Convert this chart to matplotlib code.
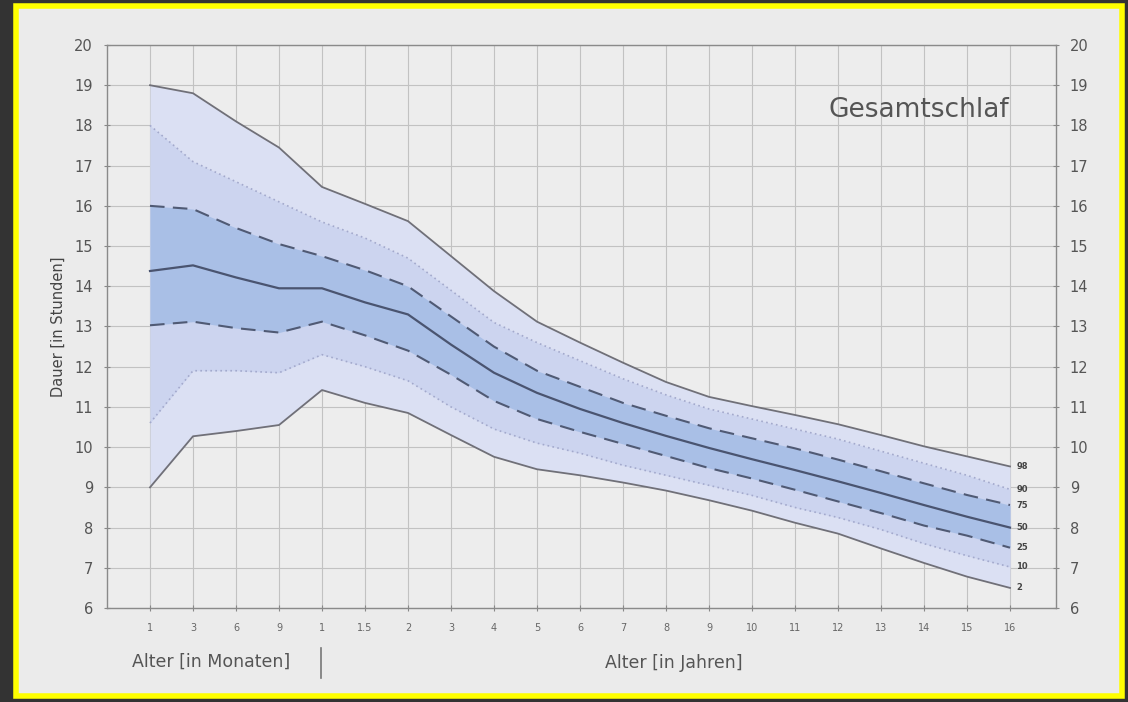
import matplotlib.pyplot as plt
from matplotlib.patches import Rectangle
from matplotlib.lines import Line2D
import numpy as np

# Alter: 1,3,6,9 Monate, dann Jahre
x_labels = ['1', '3', '6', '9', '1', '1.5', '2', '3', '4', '5', '6', '7',
            '8', '9', '10', '11', '12', '13', '14', '15', '16']

# Perzentile Gesamtschlaf (Stunden)
p98 = [19.0, 18.8, 18.1, 17.45, 16.47, 16.05, 15.62, 14.75, 13.88, 13.12, 12.6,
       12.1, 11.62, 11.25, 11.02, 10.8, 10.57, 10.3, 10.02, 9.77, 9.52]
p90 = [18.0, 17.1, 16.6, 16.1, 15.6, 15.2, 14.7, 13.9, 13.1, 12.6, 12.15,
       11.7, 11.3, 10.95, 10.7, 10.45, 10.2, 9.9, 9.6, 9.3, 8.95]
p75 = [16.0, 15.92, 15.45, 15.05, 14.75, 14.4, 14.0, 13.25, 12.5, 11.9, 11.5,
       11.1, 10.78, 10.47, 10.22, 9.97, 9.69, 9.4, 9.1, 8.81, 8.56]
p50 = [14.38, 14.52, 14.22, 13.95, 13.95, 13.6, 13.3, 12.55, 11.85, 11.35, 10.95,
       10.6, 10.28, 9.98, 9.7, 9.43, 9.15, 8.86, 8.56, 8.27, 8.0]
p25 = [13.03, 13.12, 12.96, 12.85, 13.12, 12.78, 12.4, 11.8, 11.15, 10.7, 10.38,
       10.08, 9.78, 9.48, 9.22, 8.94, 8.65, 8.36, 8.05, 7.8, 7.5]
p10 = [10.6, 11.9, 11.9, 11.85, 12.3, 12.0, 11.65, 11.0, 10.45, 10.1, 9.85,
       9.55, 9.3, 9.05, 8.8, 8.5, 8.25, 7.95, 7.6, 7.3, 7.02]
p2 = [9.0, 10.27, 10.4, 10.55, 11.42, 11.1, 10.85, 10.3, 9.76, 9.45, 9.3,
      9.12, 8.92, 8.68, 8.42, 8.12, 7.85, 7.48, 7.12, 6.78, 6.5]
perz_namen = ['98', '90', '75', '50', '25', '10', '2']

x = np.arange(len(x_labels))

fig = plt.figure(figsize=(11.28, 7.02), dpi=100)
fig.patch.set_facecolor('#333333')
# gelber Rahmen + Papier (hinter den Achsen)
fig.patches.append(Rectangle((16/1128, 6/702), 1106/1128, 690/702, transform=fig.transFigure,
                             facecolor='#ebebeb', edgecolor='#ffff00', linewidth=4, zorder=-10))

ax = fig.add_axes([107/1128, 94/702, 949/1128, 563/702])
ax.set_facecolor('#ededed')
ax.set_xlim(-1, 21.07)
ax.set_ylim(6, 20)

# Baender
ax.fill_between(x, p2, p98, color='#dbe0f3', lw=0, zorder=1)
ax.fill_between(x, p10, p90, color='#ccd4ef', lw=0, zorder=1)
ax.fill_between(x, p25, p75, color='#a9bfe6', lw=0, zorder=1)

ax.plot(x, p98, color='#707078', lw=1.3, zorder=3)
ax.plot(x, p2, color='#707078', lw=1.3, zorder=3)
ax.plot(x, p90, color='#a3a9cc', lw=1.2, ls=(0, (1, 2)), zorder=3)
ax.plot(x, p10, color='#a3a9cc', lw=1.2, ls=(0, (1, 2)), zorder=3)
ax.plot(x, p75, color='#505a74', lw=1.5, ls=(0, (7, 4)), zorder=3)
ax.plot(x, p25, color='#505a74', lw=1.5, ls=(0, (7, 4)), zorder=3)
ax.plot(x, p50, color='#4a5470', lw=1.6, zorder=3)

for name, serie in zip(perz_namen, [p98, p90, p75, p50, p25, p10, p2]):
    ax.text(x[-1] + 0.15, serie[-1], name, fontsize=6, fontweight='bold',
            color='#444444', va='center', ha='left', zorder=4)

ax.set_xticks(x)
ax.set_xticklabels(x_labels, fontsize=7, color='#666666')
ax.set_yticks(range(6, 21))
ax.tick_params(axis='x', direction='inout', length=4, pad=9, color='#888888')
ax.tick_params(axis='y', direction='inout', length=4, labelsize=10.5, labelcolor='#555555',
               color='#888888', left=True, right=True, labelleft=True, labelright=True, pad=8)
ax.grid(True, color='#c2c2c2', lw=0.8, zorder=0)
ax.set_axisbelow(True)
for s in ax.spines.values():
    s.set_color('#8a8a8a')
    s.set_linewidth(1.0)

ax.set_ylabel('Dauer [in Stunden]', fontsize=10.5, color='#444444', labelpad=6)
ax.text(0.856, 0.884, 'Gesamtschlaf', transform=ax.transAxes, fontsize=19,
        color='#555555', ha='center', va='center')

fig.text(132/1128, 1 - 662/702, 'Alter [in Monaten]', fontsize=12.5, color='#555555',
         ha='left', va='center')
fig.text(674/1128, 1 - 663/702, 'Alter [in Jahren]', fontsize=12.5, color='#555555',
         ha='center', va='center')
fig.lines.append(Line2D([321/1128, 321/1128], [1 - 648/702, 1 - 678/702],
                        transform=fig.transFigure, color='#777777', lw=1.2))

fig.savefig('out.png', dpi=100, facecolor=fig.get_facecolor())
